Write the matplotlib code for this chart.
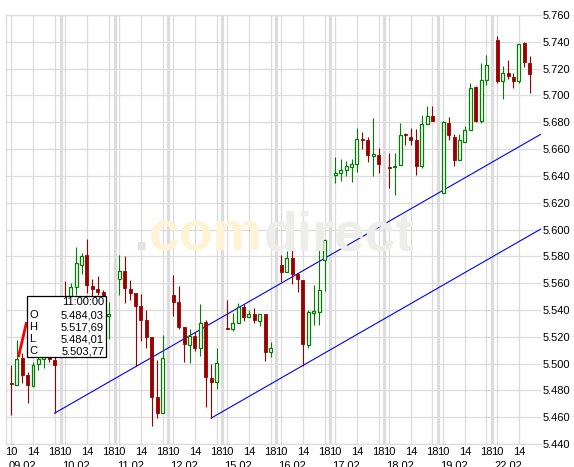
import matplotlib
matplotlib.use('Agg')
import matplotlib.pyplot as plt
from matplotlib.patches import Rectangle
import numpy as np

plt.rcParams['font.family'] = ['Liberation Sans', 'DejaVu Sans']

day_labels = ['09.02', '10.02', '11.02', '12.02', '15.02', '16.02', '17.02', '18.02', '19.02', '22.02']
candle_counts = [9, 9, 9, 9, 9, 9, 9, 9, 9, 7]   # hourly candles from 10:00 on
hour_ticks = [10, 14, 18]
price_ticks = np.arange(5.44, 5.7601, 0.02)

# one row per day, hours 10..18
opens = [5.4854, 5.48403, 5.5040, 5.4913, 5.4831, 5.4996, 5.5033, 5.5048, 5.5026,
         5.5480, 5.5450, 5.5570, 5.5734, 5.5809, 5.5578, 5.5555, 5.5533, 5.5354,
         5.5630, 5.5690, 5.5555, 5.5525, 5.5428, 5.5324, 5.5197, 5.4749, 5.4630,
         5.5510, 5.5458, 5.5272, 5.5137, 5.5204, 5.5115, 5.5309, 5.4891, 5.4861,
         5.5264, 5.5257, 5.5301, 5.5421, 5.5346, 5.5369, 5.5316, 5.5369, 5.5085,
         5.5734, 5.5682, 5.5787, 5.5667, 5.5622, 5.5137, 5.5376, 5.5384, 5.5772,
         5.6406, 5.6421, 5.6443, 5.6466, 5.6488, 5.6675, 5.6667, 5.6548, 5.6555,
         5.6465, 5.6466, 5.6481, 5.6712, 5.6690, 5.6667, 5.6473, 5.6787, 5.6846,
         5.6272, 5.6794, 5.6690, 5.6518, 5.6652, 5.6742, 5.7063, 5.6809, 5.7115,
         5.7413, 5.7107, 5.7167, 5.7137, 5.7107, 5.7391, 5.7242]
highs = [5.4988, 5.51769, 5.5080, 5.4935, 5.5010, 5.5078, 5.5115, 5.5078, 5.5050,
         5.5615, 5.5600, 5.5869, 5.5824, 5.5928, 5.5630, 5.5652, 5.5548, 5.5458,
         5.5809, 5.5801, 5.5622, 5.5525, 5.5518, 5.5399, 5.5197, 5.5026, 5.5212,
         5.5660, 5.5578, 5.5272, 5.5257, 5.5234, 5.5443, 5.5324, 5.4996, 5.5115,
         5.5473, 5.5376, 5.5451, 5.5443, 5.5399, 5.5413, 5.5369, 5.5369, 5.5160,
         5.5809, 5.5839, 5.5854, 5.5675, 5.5622, 5.5400, 5.5585, 5.5869, 5.5921,
         5.6540, 5.6525, 5.6510, 5.6525, 5.6757, 5.6727, 5.6690, 5.6831, 5.6607,
         5.6570, 5.6570, 5.6794, 5.6720, 5.6757, 5.6750, 5.6854, 5.6921, 5.6921,
         5.6810, 5.6839, 5.6712, 5.6712, 5.6772, 5.7093, 5.7070, 5.7242, 5.7301,
         5.7443, 5.7220, 5.7264, 5.7167, 5.7384, 5.7399, 5.7294]
lows = [5.4615, 5.48401, 5.4854, 5.4704, 5.4831, 5.4951, 5.4966, 5.5011, 5.4630,
        5.5320, 5.5400, 5.5510, 5.5667, 5.5525, 5.5490, 5.5510, 5.5400, 5.5182,
        5.5510, 5.5451, 5.5473, 5.4980, 5.5167, 5.5115, 5.4533, 5.4593, 5.4630,
        5.5354, 5.5257, 5.5010, 5.5003, 5.5093, 5.5056, 5.4675, 5.4593, 5.4809,
        5.5257, 5.5242, 5.5301, 5.5316, 5.5346, 5.5301, 5.5279, 5.5018, 5.5048,
        5.5607, 5.5682, 5.5593, 5.5533, 5.4980, 5.5115, 5.5287, 5.5287, 5.5540,
        5.6346, 5.6361, 5.6399, 5.6354, 5.6428, 5.6600, 5.6503, 5.6399, 5.6421,
        5.6309, 5.6257, 5.6481, 5.6630, 5.6630, 5.6406, 5.6458, 5.6787, 5.6809,
        5.6272, 5.6667, 5.6473, 5.6518, 5.6652, 5.6742, 5.6801, 5.6794, 5.7078,
        5.7093, 5.6973, 5.7122, 5.7055, 5.7093, 5.7212, 5.7018]
closes = [5.4850, 5.50377, 5.4913, 5.4839, 5.4988, 5.5033, 5.5055, 5.5033, 5.4988,
          5.5380, 5.5570, 5.5749, 5.5801, 5.5585, 5.5555, 5.5533, 5.5450, 5.5369,
          5.5690, 5.5563, 5.5525, 5.5428, 5.5324, 5.5197, 5.4749, 5.4630, 5.5040,
          5.5458, 5.5272, 5.5145, 5.5204, 5.5115, 5.5301, 5.4899, 5.4861, 5.5003,
          5.5257, 5.5301, 5.5421, 5.5346, 5.5369, 5.5324, 5.5369, 5.5085, 5.5115,
          5.5682, 5.5787, 5.5667, 5.5630, 5.5145, 5.5384, 5.5391, 5.5548, 5.5921,
          5.6421, 5.6443, 5.6473, 5.6488, 5.6675, 5.6668, 5.6555, 5.6563, 5.6488,
          5.6458, 5.6473, 5.6705, 5.6705, 5.6667, 5.6473, 5.6787, 5.6846, 5.6809,
          5.6801, 5.6705, 5.6518, 5.6667, 5.6742, 5.7055, 5.6809, 5.7115, 5.7227,
          5.7107, 5.7167, 5.7145, 5.7107, 5.7384, 5.7249, 5.7160]

# trend channel: start (day, hour, price), common slope per hour slot
channel_starts = [(0, 18, 5.4630), (3, 17, 5.4593)]
channel_slope = 0.00231

tip_time = '11:00:00'
tip_rows = [('O', '5.484,03'), ('H', '5.517,69'), ('L', '5.484,01'), ('C', '5.503,77')]

W, H = 574, 467
def slot(day, hour):
    return day * 10 + (hour - 9)

x = []
for d, n in enumerate(candle_counts):
    for i in range(n):
        x.append(slot(d, 10 + i))
x = np.array(x, dtype=float)
o, h, l, c = map(np.array, (opens, highs, lows, closes))

fig = plt.figure(figsize=(W / 100, H / 100), dpi=100)
fig.patch.set_facecolor('white')
ax = fig.add_axes([6 / W, 23 / H, 535 / W, 429 / H])
xmax = 99.1
ax.set_xlim(0, xmax)
ax.set_ylim(5.44, 5.76)

grid_c = '#dcdcdc'
xt, xl = [], []
for d in range(len(day_labels)):
    for hh in hour_ticks:
        if slot(d, hh) < xmax - 0.5:
            xt.append(slot(d, hh))
            xl.append(str(hh))
ax.set_xticks(xt)
ax.set_xticklabels(xl)
ax.set_yticks(price_ticks)
ax.set_yticklabels(['%.3f' % p for p in price_ticks])
ax.yaxis.tick_right()
ax.tick_params(length=0, labelsize=8, colors='black')
ax.tick_params(axis='x', pad=2)
ax.tick_params(axis='y', pad=1.5)
ax.grid(True, color=grid_c, linewidth=0.9)
ax.set_axisbelow(True)
for d in range(1, len(day_labels)):
    ax.axvline(slot(d, 9) + 0.1, color=grid_c, linewidth=2.3, zorder=0.5)
for s in ['left', 'top', 'bottom']:
    ax.spines[s].set_color(grid_c)
    ax.spines[s].set_linewidth(0.9)
ax.spines['right'].set_visible(False)

# date labels under the hour labels (cut by the lower image edge)
for d, lab in enumerate(day_labels):
    ax.text(slot(d, 12), -0.04, lab, transform=ax.get_xaxis_transform(),
            ha='center', va='top', fontsize=8)

# watermark
fig.text(133 / W, 1 - 250 / H, '.', color='#e2e2e0', fontsize=40, fontweight='bold', va='baseline')
fig.text(149 / W, 1 - 250 / H, 'com', color='#fff3d6', fontsize=40, fontweight='bold', va='baseline')
fig.text(264 / W, 1 - 250 / H, 'direct', color='#ededea', fontsize=40, fontweight='bold', va='baseline')

# channel
for d, hh, p in channel_starts:
    x0 = slot(d, hh)
    ax.plot([x0, xmax], [p, p + channel_slope * (xmax - x0)], color='#0000ff', linewidth=0.8, zorder=3)

# candles
up = c >= o
red, green = '#990000', '#008000'
ax.vlines(x[up], l[up], h[up], color=green, linewidth=0.8, zorder=4)
ax.vlines(x[~up], l[~up], h[~up], color=red, linewidth=0.8, zorder=4)
body = np.maximum(np.abs(c - o), 0.0008)
ax.bar(x[up], body[up], bottom=np.minimum(o, c)[up], width=0.55, color='white',
       edgecolor=green, linewidth=0.9, zorder=5)
ax.bar(x[~up], body[~up], bottom=(np.minimum(o, c) - (body - np.abs(c - o)) / 2)[~up],
       width=0.55, color=red, edgecolor=red, linewidth=0.6, zorder=5)

# tooltip pointer and box
ax.plot([2.3, 3.8], [5.5048, 5.5309], color='#ff0000', linewidth=2, zorder=6, solid_capstyle='butt')
fig.add_artist(Rectangle((27 / W, 1 - 357 / H), 79 / W, 61 / H, transform=fig.transFigure,
                         facecolor='white', edgecolor='black', linewidth=0.9, zorder=10))
fig.text(104 / W, 1 - 302 / H, tip_time, ha='right', va='center', fontsize=8, zorder=11)
for i, (k, v) in enumerate(tip_rows):
    yy = 1 - (315 + 12 * i) / H
    fig.text(29 / W, yy, k, ha='left', va='center', fontsize=8, zorder=11)
    fig.text(104 / W, yy, v, ha='right', va='center', fontsize=8, zorder=11)

fig.savefig('out.png', dpi=100)
